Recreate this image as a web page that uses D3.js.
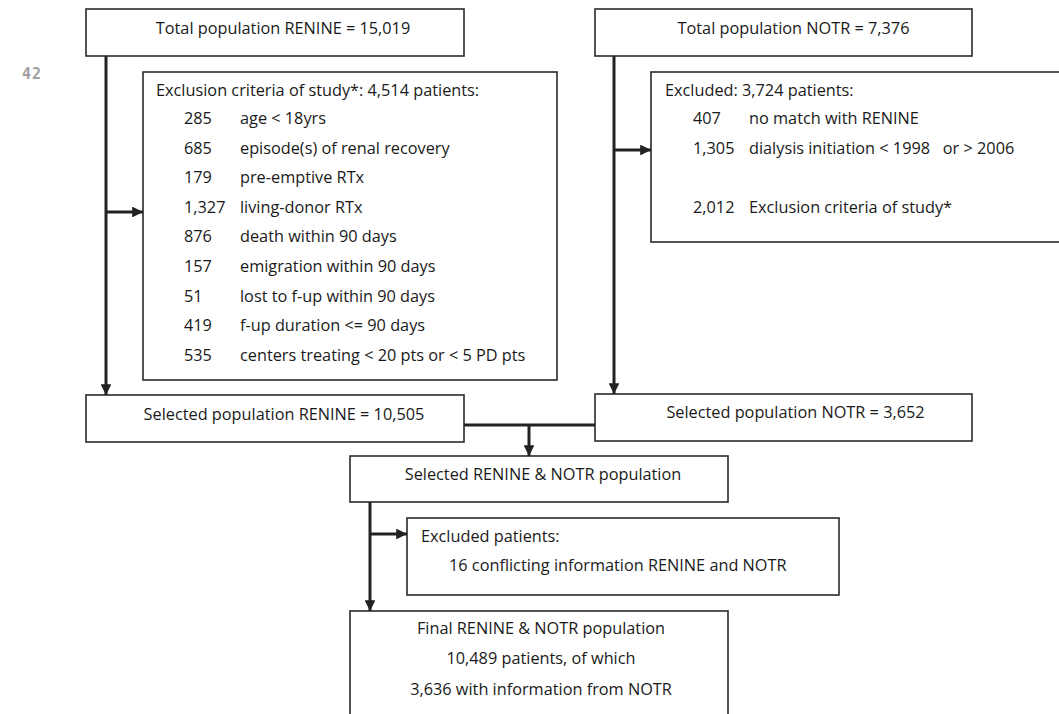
<!DOCTYPE html>
<html>
<head>
<meta charset="utf-8">
<script src="https://cdn.jsdelivr.net/npm/d3@7"></script>
<style>
  html, body { margin: 0; padding: 0; background: #fff; }
  svg { display: block; }
</style>
</head>
<body>
<svg id="chart" width="1059" height="714"></svg>
<script>
// ---------------- DATA ----------------
const pageNumber = "42";
const totalRenine = "15,019";
const totalNotr = "7,376";
const renineExclTotal = "4,514";
const renineExclCounts = ["285", "685", "179", "1,327", "876", "157", "51", "419", "535"];
const renineExclReasons = [
  "age < 18yrs",
  "episode(s) of renal recovery",
  "pre-emptive RTx",
  "living-donor RTx",
  "death within 90 days",
  "emigration within 90 days",
  "lost to f-up within 90 days",
  "f-up duration <= 90 days",
  "centers treating < 20 pts or < 5 PD pts"
];
const notrExclTotal = "3,724";
const notrExclCounts = ["407", "1,305", "", "2,012"];
const notrExclReasons = [
  "no match with RENINE",
  "dialysis initiation < 1998   or > 2006",
  "",
  "Exclusion criteria of study*"
];
const selectedRenine = "10,505";
const selectedNotr = "3,652";
const mergedExclCounts = ["16"];
const mergedExclReasons = ["conflicting information RENINE and NOTR"];
const finalLines = [
  "Final RENINE & NOTR population",
  "10,489 patients, of which",
  "3,636 with information from NOTR"
];

// ---------------- LAYOUT ----------------
const svg = d3.select("#chart");
const FONT = "'Open Sans', Lato, sans-serif";
const FS = 16.3;
const INK = "#222";

const L = {
  A: { x: 86, y: 9, w: 378, h: 47 },
  B: { x: 595, y: 9, w: 377, h: 47 },
  C: { x: 143, y: 72, w: 414, h: 308 },
  D: { x: 651, y: 72, w: 440, h: 170 },
  E: { x: 86, y: 395, w: 378, h: 47 },
  F: { x: 595, y: 394, w: 377, h: 47 },
  G: { x: 350, y: 456, w: 378, h: 46 },
  H: { x: 407, y: 518, w: 432, h: 77 },
  I: { x: 350, y: 611, w: 378, h: 140 }
};

// row scale for list boxes
const rowY = d3.scaleLinear().domain([0, 1]).range([0, 29.6]);

// arrow marker
const defs = svg.append("defs");
defs.append("marker")
  .attr("id", "arrow")
  .attr("viewBox", "0 0 10 10")
  .attr("refX", 10).attr("refY", 5)
  .attr("markerWidth", 3.6).attr("markerHeight", 3.6)
  .attr("markerUnits", "strokeWidth")
  .attr("orient", "auto")
  .append("path").attr("d", "M0,0 L10,5 L0,10 Z").attr("fill", INK);

// boxes
const boxKeys = Object.keys(L);
svg.append("g").selectAll("rect").data(boxKeys).join("rect")
  .attr("x", k => L[k].x).attr("y", k => L[k].y)
  .attr("width", k => L[k].w).attr("height", k => L[k].h)
  .attr("fill", "#fff").attr("stroke", "#2a2a2a").attr("stroke-width", 1.6);

// connectors
const line = d3.line();
const conn = svg.append("g").attr("fill", "none").attr("stroke", INK).attr("stroke-width", 3);
function seg(pts, arrow) {
  const p = conn.append("path").attr("d", line(pts));
  if (arrow) p.attr("marker-end", "url(#arrow)");
}
// RENINE trunk
const xr = 106;
seg([[xr, L.A.y + L.A.h], [xr, L.E.y]], true);
seg([[xr, 212], [L.C.x, 212]], true);
// NOTR trunk
const xn = 614;
seg([[xn, L.B.y + L.B.h], [xn, L.F.y]], true);
seg([[xn, 150], [L.D.x, 150]], true);
// merge
const ym = 425;
seg([[L.E.x + L.E.w, ym], [L.F.x, ym]], false);
seg([[529, ym], [529, L.G.y]], true);
// final trunk
const xf = 370;
seg([[xf, L.G.y + L.G.h], [xf, L.I.y]], true);
seg([[xf, 534], [L.H.x, 534]], true);

// text helper
const txt = svg.append("g").attr("font-family", FONT).attr("font-size", FS).attr("fill", "#1a1a1a");
function centered(box, s, dx, y) {
  txt.append("text").attr("x", box.x + box.w / 2 + dx).attr("y", y)
    .attr("text-anchor", "middle").text(s);
}
centered(L.A, "Total population RENINE = " + totalRenine, 8, 34);
centered(L.B, "Total population NOTR = " + totalNotr, 10, 34);
centered(L.E, "Selected population RENINE = " + selectedRenine, 9, 420);
centered(L.F, "Selected population NOTR = " + selectedNotr, 12, 418);
centered(L.G, "Selected RENINE & NOTR population", 4, 480);
txt.selectAll(".final").data(finalLines).join("text")
  .attr("x", L.I.x + L.I.w / 2 + 2)
  .attr("y", (d, i) => 634 + rowY(i) + (i === 2 ? 1.5 : 0))
  .attr("text-anchor", "middle").text(d => d);

// list boxes
function listBox(header, hx, hy, counts, reasons, cx, rx, y0) {
  txt.append("text").attr("x", hx).attr("y", hy).text(header);
  const g = txt.append("g");
  g.selectAll(".n").data(counts).join("text")
    .attr("x", cx).attr("y", (d, i) => y0 + rowY(i)).text(d => d);
  g.selectAll(".r").data(reasons).join("text")
    .attr("x", rx).attr("y", (d, i) => y0 + rowY(i))
    .attr("xml:space", "preserve").style("white-space", "pre").text(d => d);
}
listBox("Exclusion criteria of study*: " + renineExclTotal + " patients:", 156, 96,
  renineExclCounts, renineExclReasons, 184, 240, 124);
listBox("Excluded: " + notrExclTotal + " patients:", 665, 96,
  notrExclCounts, notrExclReasons, 693, 749, 124);

txt.append("text").attr("x", 421).attr("y", 542).text("Excluded patients:");
txt.append("text").attr("x", 449).attr("y", 571)
  .text(mergedExclCounts[0] + "  " + mergedExclReasons[0]);

// page number
svg.append("text").attr("x", 22).attr("y", 79)
  .attr("font-family", "'DejaVu Sans Mono', monospace").attr("font-weight", "bold")
  .attr("font-size", 15).attr("letter-spacing", 1).attr("fill", "#a0a0a0").text(pageNumber);
</script>
</body>
</html>
